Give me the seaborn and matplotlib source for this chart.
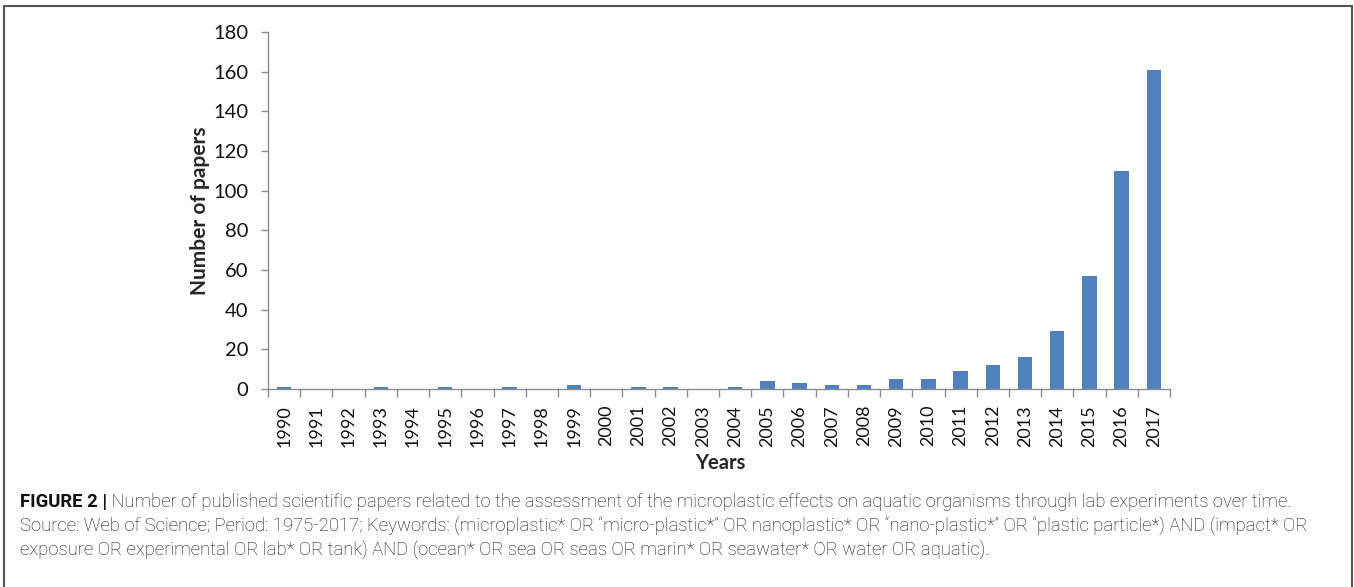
import matplotlib
matplotlib.use('Agg')
import matplotlib.pyplot as plt
import seaborn as sns
import pandas as pd
from matplotlib.patches import Rectangle
from matplotlib.ticker import FixedLocator

# --- data ---
years = [str(y) for y in range(1990, 2018)]
papers = [1, 0, 0, 1, 0, 1, 0, 1, 0, 2, 0, 1, 1, 0, 1,
          4, 3, 2, 2, 5, 5, 9, 12, 16, 29, 57, 110, 161]
y_ticks = list(range(0, 181, 20))

caption_bold = 'FIGURE 2 |'
caption_lines = [
    ' Number of published scientific papers related to the assessment of the microplastic effects on aquatic organisms through lab experiments over time.',
    'Source: Web of Science; Period: 1975-2017; Keywords: (microplastic* OR \u201cmicro-plastic*\u201d OR nanoplastic* OR \u201cnano-plastic*\u201d OR \u201cplastic particle*) AND (impact* OR',
    'exposure OR experimental OR lab* OR tank) AND (ocean* OR sea OR seas OR marin* OR seawater* OR water OR aquatic).',
]

BAR = '#4F81BD'
AXIS = '#8C8C8C'

sns.set_style('white')
plt.rcParams['font.family'] = ['Lato', 'DejaVu Sans']

df = pd.DataFrame({'year': years, 'papers': papers})

W, H = 1354, 587
fig = plt.figure(figsize=(W / 100, H / 100), dpi=100)
ax = fig.add_axes([268 / W, 1 - 389 / H, (1170 - 268) / W, (389 - 32) / H])

sns.barplot(data=df, x='year', y='papers', color=BAR, width=0.45,
            saturation=1, ax=ax, linewidth=0)

ax.set_xlim(-0.5, len(years) - 0.5)
ax.set_ylim(0, 180)
ax.set_yticks(y_ticks)
ax.tick_params(axis='y', labelsize=14.5, length=5, width=1, color=AXIS,
               direction='out', left=True, pad=9, labelcolor='#111111')
ax.tick_params(axis='x', which='major', length=0, labelsize=13, pad=11.5,
               labelrotation=90, labelcolor='#111111')
ax.xaxis.set_minor_locator(FixedLocator([i - 0.5 for i in range(len(years) + 1)]))
ax.tick_params(axis='x', which='minor', length=6, width=1, color=AXIS,
               direction='out', bottom=True)

for s in ['top', 'right']:
    ax.spines[s].set_visible(False)
for s in ['left', 'bottom']:
    ax.spines[s].set_color(AXIS)
    ax.spines[s].set_linewidth(1)

ax.set_xlabel('Years', fontsize=14.5, fontweight='bold')
ax.set_ylabel('Number of papers', fontsize=15, fontweight='bold')
ax.xaxis.set_label_coords(0.501, -0.179)
ax.yaxis.set_label_coords(-0.064, 0.5)
ax.grid(False)

# outer frame
fig.patches.append(Rectangle((4 / W, -0.05), (1352 - 4) / W, 1.05 - 6 / H,
                             transform=fig.transFigure, fill=False,
                             edgecolor='#555555', linewidth=1.5))

# caption
cap_kw = dict(fontsize=13.3, family=['Roboto', 'DejaVu Sans'], color='#111111', va='baseline')
x0 = 20 / W
t_bold = fig.text(x0, 1 - 507 / H, caption_bold, fontweight='bold', **cap_kw)
fig.canvas.draw()
bb = t_bold.get_window_extent(renderer=fig.canvas.get_renderer())
fig.text(bb.x1 / W, 1 - 507 / H, caption_lines[0], fontweight='light', **cap_kw)
fig.text(x0, 1 - 531 / H, caption_lines[1], fontweight='light', **cap_kw)
fig.text(x0, 1 - 555 / H, caption_lines[2], fontweight='light', **cap_kw)

fig.savefig('out.png', dpi=100)
